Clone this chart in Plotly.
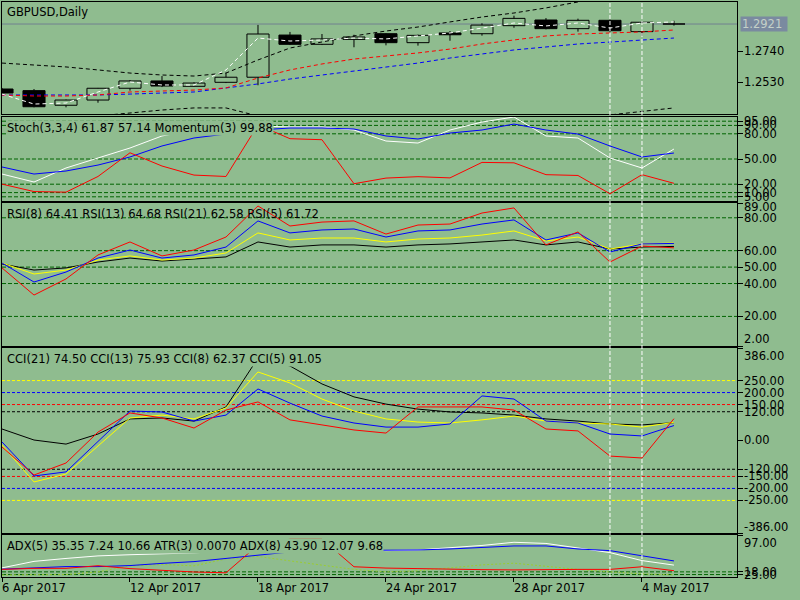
import plotly.graph_objects as go

BG = "#8FBC8F"
FONT_FAMILY = "DejaVu Sans"
FSIZE = 11.5

# ---------------- data ----------------
bar_dates = ["6 Apr 2017", "7 Apr 2017", "10 Apr 2017", "11 Apr 2017", "12 Apr 2017",
             "13 Apr 2017", "14 Apr 2017", "17 Apr 2017", "18 Apr 2017", "19 Apr 2017",
             "20 Apr 2017", "21 Apr 2017", "24 Apr 2017", "25 Apr 2017", "26 Apr 2017",
             "27 Apr 2017", "28 Apr 2017", "1 May 2017", "2 May 2017", "3 May 2017",
             "4 May 2017", "5 May 2017"]

opens = [1.2485, 1.2474, 1.2376, 1.2411, 1.2490, 1.2539, 1.2503, 1.2530, 1.2564, 1.2847, 1.2785,
         1.2818, 1.2856, 1.2796, 1.2861, 1.2856, 1.2910, 1.2948, 1.2890, 1.2946, 1.2870, 1.2921]
highs = [1.2492, 1.2485, 1.2414, 1.2492, 1.2545, 1.2572, 1.2530, 1.2594, 1.2915, 1.2868, 1.2854,
         1.2849, 1.2860, 1.2850, 1.2874, 1.2926, 1.2977, 1.2961, 1.2957, 1.2950, 1.2936, 1.2943]
lows = [1.2452, 1.2362, 1.2362, 1.2393, 1.2474, 1.2498, 1.2500, 1.2525, 1.2510, 1.2780, 1.2780,
        1.2765, 1.2778, 1.2776, 1.2809, 1.2843, 1.2896, 1.2885, 1.2870, 1.2870, 1.2841, 1.2910]
closes = [1.2458, 1.2366, 1.2411, 1.2490, 1.2539, 1.2505, 1.2525, 1.2564, 1.2854, 1.2785, 1.2821,
          1.2834, 1.2796, 1.2845, 1.2849, 1.2914, 1.2959, 1.2890, 1.2946, 1.2876, 1.2933, 1.2921]

ma_white = [1.2451, 1.2384, 1.2391, 1.2465, 1.2532, 1.2512, 1.2512, 1.2613, 1.2827, 1.2807, 1.2814,
            1.2827, 1.2821, 1.2841, 1.2861, 1.2894, 1.2928, 1.2908, 1.2928, 1.2894, 1.2928, 1.2935]
ma_red = [1.2445, 1.2438, 1.2438, 1.2445, 1.2465, 1.2472, 1.2478, 1.2492, 1.2559, 1.2613, 1.2653,
          1.2686, 1.2706, 1.2727, 1.2753, 1.2787, 1.2814, 1.2841, 1.2854, 1.2861, 1.2868, 1.2881]
ma_blue = [1.2445, 1.2445, 1.2445, 1.2445, 1.2451, 1.2458, 1.2465, 1.2492, 1.2519, 1.2552, 1.2579,
           1.2606, 1.2633, 1.2659, 1.2693, 1.2720, 1.2747, 1.2767, 1.2787, 1.2800, 1.2814, 1.2827]
band_upper = [1.2659, 1.2646, 1.2633, 1.2613, 1.2592, 1.2579, 1.2572, 1.2592, 1.2680, 1.2760, 1.2800,
              1.2841, 1.2874, 1.2901, 1.2935, 1.2968, 1.2995, 1.3029, 1.3069, 1.3109, 1.3136, 1.3163]
band_lower = [1.2264, 1.2277, 1.2290, 1.2304, 1.2324, 1.2344, 1.2358, 1.2358, 1.2304, 1.2250, 1.2210,
              1.2176, 1.2156, 1.2143, 1.2143, 1.2156, 1.2176, 1.2210, 1.2250, 1.2311, 1.2337, 1.2358]
current_price = 1.2921

stoch_main = [32.1, 22.6, 39.3, 51.2, 63.1, 77.4, 84.5, 88.1, 89.3, 88.1, 88.1, 84.5, 71.4, 69.0,
              84.5, 94.0, 100.0, 77.4, 75.0, 51.2, 39.3, 61.87]
stoch_signal = [40.5, 32.1, 35.7, 42.8, 52.4, 65.5, 75.0, 79.7, 84.5, 86.9, 86.9, 85.7, 77.4, 73.8,
                80.9, 84.5, 91.6, 84.5, 79.7, 65.5, 52.4, 57.14]
momentum = [99.84, 99.47, 99.44, 100.22, 101.40, 100.74, 100.29, 100.22, 102.79, 102.10, 102.05,
            99.86, 100.14, 100.21, 100.15, 100.92, 100.90, 100.31, 100.27, 99.36, 100.31, 99.88]

rsi5 = [49.5, 33.0, 42.8, 57.4, 65.3, 56.8, 60.4, 68.3, 87.2, 75.0, 77.4, 78.1, 70.1, 75.6, 76.2,
        82.9, 86.0, 63.5, 71.4, 53.1, 62.8, 61.72]
rsi8 = [52.5, 40.9, 47.0, 55.5, 60.4, 55.5, 57.4, 62.2, 78.1, 70.8, 72.6, 73.2, 68.3, 72.0, 72.6,
        76.2, 78.7, 66.5, 70.8, 59.2, 64.1, 64.41]
rsi13 = [52.5, 45.8, 48.2, 54.3, 56.8, 54.3, 55.5, 58.6, 70.8, 66.5, 67.7, 67.7, 65.3, 67.1, 67.7,
         69.5, 72.0, 65.9, 68.3, 61.0, 64.1, 64.68]
rsi21 = [51.9, 48.2, 49.5, 53.1, 55.5, 53.7, 54.9, 56.2, 65.3, 62.2, 63.5, 63.5, 62.2, 63.5, 64.1,
         65.3, 66.5, 63.5, 65.3, 61.0, 62.2, 62.58]

cci21 = [48, 2, -15, 27, 90, 94, 81, 140, 344, 311, 236, 182, 152, 131, 119, 115, 106, 90, 81, 69, 65, 74.50]
cci13 = [-19, -173, -140, -23, 94, 106, 90, 136, 286, 240, 173, 123, 90, 77, 73, 86, 102, 81, 73, 69, 56, 75.93]
cci8 = [-6, -148, -131, -2, 123, 119, 81, 106, 215, 156, 102, 73, 56, 56, 69, 186, 173, 81, 73, 27, 19, 62.37]
cci5 = [-27, -144, -94, 35, 115, 94, 52, 127, 161, 86, 65, 44, 31, 140, 140, 140, 127, 48, 40, -65, -73, 91.05]

adx5_main = [29.7, 43.0, 49.0, 54.2, 56.6, 58.2, 60.3, 64.4, 70.5, 72.5, 72.5, 68.4, 65.0, 66.4,
             70.5, 75.6, 82.1, 79.7, 70.5, 60.9, 44.6, 35.35]
adx8_main = [27.0, 29.0, 32.3, 32.3, 34.4, 38.9, 42.5, 49.0, 56.2, 62.3, 64.8, 65.0, 65.0, 66.4,
             68.4, 71.5, 74.6, 74.6, 68.4, 65.0, 54.2, 43.90]
adx_di = [15.0, 15.0, 16.0, 21.5, 33.8, 36.8, 33.8, 48.0, 53.1, 44.0, 34.8, 26.6, 21.5, 23.6, 29.7,
          35.8, 39.3, 32.7, 26.6, 21.5, 17.4, 15.4]
atr3 = [0.0075, 0.0079, 0.0079, 0.0089, 0.0078, 0.0071, 0.0065, 0.0062, 0.0168, 0.0190, 0.0190,
        0.0085, 0.0080, 0.0078, 0.0075, 0.0074, 0.0073, 0.0075, 0.0075, 0.0075, 0.0085, 0.0070]

# axis ticks / levels / labels
price_ticks = [1.2740, 1.2530]
price_tick_labels = ["1.2740", "1.2530"]
stoch_levels = [95, 90, 80, 50, 20, 10, 5]
stoch_labels = ["95.00", "90.00", "80.00", "50.00", "20.00", "10.00", "5.00"]
rsi_levels = [80, 60, 50, 40, 20]
rsi_ticks = [89, 80, 60, 50, 40, 20, 2]
rsi_labels = ["89.00", "80.00", "60.00", "50.00", "40.00", "20.00", "2.00"]
cci_levels = [250, 200, 150, 120, -120, -150, -200, -250]
cci_level_colors = ["#FFFF00", "#0000FF", "#FF0000", "#000000", "#000000", "#FF0000", "#0000FF", "#FFFF00"]
cci_ticks = [386, 250, 200, 150, 120, 0, -120, -150, -200, -250, -386]
cci_labels = ["386.00", "250.00", "200.00", "150.00", "120.00", "0.00", "-120.00", "-150.00",
              "-200.00", "-250.00", "-386.00"]
adx_levels = [21.5, 16.0]
adx_ticks = [97, 21.5, 16.0]
adx_labels = ["97.00", "18.00", "25.00"]
xtick_labels = ["6 Apr 2017", "12 Apr 2017", "18 Apr 2017", "24 Apr 2017", "28 Apr 2017", "4 May 2017"]
vline_dates = ["3 May 2017", "4 May 2017"]

main_title = "GBPUSD,Daily"
stoch_title = "Stoch(3,3,4) 61.87 57.14 Momentum(3) 99.88"
rsi_title = "RSI(8) 64.41 RSI(13) 64.68 RSI(21) 62.58 RSI(5) 61.72"
cci_title = "CCI(21) 74.50 CCI(13) 75.93 CCI(8) 62.37 CCI(5) 91.05"
adx_title = "ADX(5) 35.35 7.24 10.66 ATR(3) 0.0070 ADX(8) 43.90 12.07 9.68"

# ---------------- figure ----------------
x = list(range(len(bar_dates)))
X_RANGE = [0, 22.97]
MAIN_RANGE = [1.23173, 1.30688]
STOCH_RANGE = [0, 100]
MOM_RANGE = [99.0, 103.18]
RSI_RANGE = [2, 89]
CCI_RANGE = [-386, 386]
ADX_RANGE = [11, 97]
ATR_RANGE = [0.0046, 0.0206]

fig = go.Figure()


def line(xa, ya, yv, color, dash="solid"):
    return go.Scatter(x=x, y=yv, xaxis=xa, yaxis=ya, mode="lines",
                      line=dict(color=color, width=1, dash=dash),
                      hoverinfo="skip", showlegend=False)


# main price panel
MA_DASH = "4px,3px"
fig.add_trace(line("x", "y", band_upper, "black", MA_DASH))
fig.add_trace(line("x", "y", band_lower, "black", MA_DASH))
fig.add_trace(line("x", "y", ma_blue, "#0000FF", MA_DASH))
fig.add_trace(line("x", "y", ma_red, "#FF0000", MA_DASH))

wx, wy = [], []
for i, (o, h, l, c) in enumerate(zip(opens, highs, lows, closes)):
    top, bot = max(o, c), min(o, c)
    wx += [i, i, None, i, i, None]
    wy += [top, h, None, bot, l, None]
fig.add_trace(go.Scatter(x=wx, y=wy, xaxis="x", yaxis="y", mode="lines",
                         line=dict(color="black", width=1), hoverinfo="skip", showlegend=False))
fig.add_trace(go.Bar(x=x, base=[min(o, c) for o, c in zip(opens, closes)],
                     y=[max(abs(c - o), 0.00003) for o, c in zip(opens, closes)],
                     width=0.69, xaxis="x", yaxis="y",
                     marker=dict(color=[BG if c >= o else "black" for o, c in zip(opens, closes)],
                                 line=dict(color="black", width=1)),
                     hoverinfo="skip", showlegend=False))
fig.add_trace(line("x", "y", ma_white, "#FFFFFF", MA_DASH))

# stochastic + momentum
fig.add_trace(line("x2", "y2", stoch_main, "#FFFFFF"))
fig.add_trace(line("x2", "y2", stoch_signal, "#0000FF"))
fig.add_trace(line("x2", "y6", momentum, "#FF0000"))

# RSI
fig.add_trace(line("x3", "y3", rsi21, "#000000"))
fig.add_trace(line("x3", "y3", rsi13, "#FFFF00"))
fig.add_trace(line("x3", "y3", rsi8, "#0000FF"))
fig.add_trace(line("x3", "y3", rsi5, "#FF0000"))

# CCI
fig.add_trace(line("x4", "y4", cci21, "#000000"))
fig.add_trace(line("x4", "y4", cci13, "#FFFF00"))
fig.add_trace(line("x4", "y4", cci8, "#0000FF"))
fig.add_trace(line("x4", "y4", cci5, "#FF0000"))

# ADX / ATR
fig.add_trace(line("x5", "y5", adx_di, "#9ACD32", "2px,2px"))
fig.add_trace(line("x5", "y5", adx5_main, "#FFFFFF"))
fig.add_trace(line("x5", "y5", adx8_main, "#0000FF"))
fig.add_trace(line("x5", "y7", atr3, "#FF0000"))

# ---------------- shapes ----------------
shapes = []
LVL_DASH = "4px,2px"
shapes.append(dict(type="line", xref="x domain", x0=0, x1=1, yref="y", y0=current_price, y1=current_price,
                   line=dict(color="#708090", width=1), layer="below"))
for v in stoch_levels:
    shapes.append(dict(type="line", xref="x2 domain", x0=0, x1=1, yref="y2", y0=v, y1=v,
                       line=dict(color="#006400", width=1, dash=LVL_DASH), layer="below"))
for v in rsi_levels:
    shapes.append(dict(type="line", xref="x3 domain", x0=0, x1=1, yref="y3", y0=v, y1=v,
                       line=dict(color="#006400", width=1, dash=LVL_DASH), layer="below"))
for v, col in zip(cci_levels, cci_level_colors):
    shapes.append(dict(type="line", xref="x4 domain", x0=0, x1=1, yref="y4", y0=v, y1=v,
                       line=dict(color=col, width=1, dash="3px,2px"), layer="below"))
for v in adx_levels:
    shapes.append(dict(type="line", xref="x5 domain", x0=0, x1=1, yref="y5", y0=v, y1=v,
                       line=dict(color="#006400", width=1, dash=LVL_DASH), layer="below"))
for d in vline_dates:
    xi = bar_dates.index(d)
    shapes.append(dict(type="line", xref="x", x0=xi, x1=xi, yref="paper", y0=0, y1=1,
                       line=dict(color="#FFFFFF", width=1, dash="4px,2px"), layer="above"))

# ---------------- annotations ----------------
ann = []
LABEL_X = 1.0068  # just right of the plot area


def rlabel(yref, val, text, shift=0):
    ann.append(dict(xref="paper", x=LABEL_X, xanchor="left", yref=yref, y=val, yanchor="middle",
                    yshift=shift, text=text, showarrow=False,
                    font=dict(family=FONT_FAMILY, size=FSIZE, color="black")))


for v, t in zip(price_ticks, price_tick_labels):
    rlabel("y", v, t)
ann.append(dict(xref="paper", x=1.0041, xanchor="left", yref="y", y=current_price, yanchor="middle",
                text="1.2921", showarrow=False, bgcolor="#7A8AA0", borderpad=1, width=44, height=12,
                align="left", font=dict(family=FONT_FAMILY, size=FSIZE, color="#C4D0C8")))
for v, t in zip(stoch_levels, stoch_labels):
    rlabel("y2", v, t)
for v, t in zip(rsi_ticks, rsi_labels):
    rlabel("y3", v, t, -4 if v == max(rsi_ticks) else (7 if v == min(rsi_ticks) else 0))
for v, t in zip(cci_ticks, cci_labels):
    rlabel("y4", v, t, -8 if v == max(cci_ticks) else (6 if v == min(cci_ticks) else 0))
for v, t in zip(adx_ticks, adx_labels):
    rlabel("y5", v, t, -8 if v == max(adx_ticks) else 0)


def ptitle(text, ypx, opaque=True):
    ann.append(dict(xref="paper", x=0.0054, xanchor="left", yref="paper", y=(577 - ypx) / 575,
                    yanchor="middle", text=text, showarrow=False, borderpad=0,
                    bgcolor=BG if opaque else "rgba(0,0,0,0)",
                    font=dict(family=FONT_FAMILY, size=FSIZE, color="black")))


ptitle(main_title, 12)
ptitle(stoch_title, 127.5)
ptitle(rsi_title, 214, opaque=False)
ptitle(cci_title, 359)
ptitle(adx_title, 546)

xtick_pos = [bar_dates.index(d) for d in xtick_labels]
for p, t in zip(xtick_pos, xtick_labels):
    ann.append(dict(xref="x5", x=p, xanchor="left", xshift=-2, yref="paper", y=(577 - 588) / 575,
                    yanchor="middle", text=t, showarrow=False,
                    font=dict(family=FONT_FAMILY, size=FSIZE, color="black")))

# ---------------- layout ----------------


def xax(anchor, ticks=False):
    return dict(domain=[0, 1], range=X_RANGE, anchor=anchor, showline=True, mirror=True,
                linecolor="black", linewidth=1, showgrid=False, zeroline=False,
                showticklabels=False, ticks="outside" if ticks else "", tickvals=xtick_pos,
                ticklen=4, tickcolor="black", fixedrange=True)


def yax(domain, rng, anchor, tickvals):
    return dict(domain=domain, range=rng, anchor=anchor, side="right", showline=True, mirror=True,
                linecolor="black", linewidth=1, ticks="outside", ticklen=5, tickcolor="black",
                tickvals=tickvals, showticklabels=False, showgrid=False, zeroline=False,
                fixedrange=True)


D_MAIN = [(577 - 114) / 575, 1.0]
D_STOCH = [(577 - 201) / 575, (577 - 117) / 575]
D_RSI = [(577 - 346) / 575, (577 - 203) / 575]
D_CCI = [(577 - 533) / 575, (577 - 348) / 575]
D_ADX = [0.0, (577 - 535) / 575]

fig.update_layout(
    width=800, height=600,
    margin=dict(l=2, r=63, t=2, b=23),
    paper_bgcolor=BG, plot_bgcolor=BG,
    showlegend=False,
    barmode="overlay",
    font=dict(family=FONT_FAMILY, size=FSIZE, color="black"),
    xaxis=xax("y"), xaxis2=xax("y2"), xaxis3=xax("y3"), xaxis4=xax("y4"), xaxis5=xax("y5", True),
    yaxis=yax(D_MAIN, MAIN_RANGE, "x", price_ticks),
    yaxis2=yax(D_STOCH, STOCH_RANGE, "x2", stoch_levels),
    yaxis3=yax(D_RSI, RSI_RANGE, "x3", rsi_ticks),
    yaxis4=yax(D_CCI, CCI_RANGE, "x4", cci_ticks),
    yaxis5=yax(D_ADX, ADX_RANGE, "x5", adx_ticks),
    yaxis6=dict(overlaying="y2", range=MOM_RANGE, visible=False, fixedrange=True),
    yaxis7=dict(overlaying="y5", range=ATR_RANGE, visible=False, fixedrange=True),
    shapes=shapes,
    annotations=ann,
)

fig.write_html("out.html", config={"displayModeBar": False},
               post_script="document.body.style.margin='0px';document.body.style.background='" + BG + "';")
